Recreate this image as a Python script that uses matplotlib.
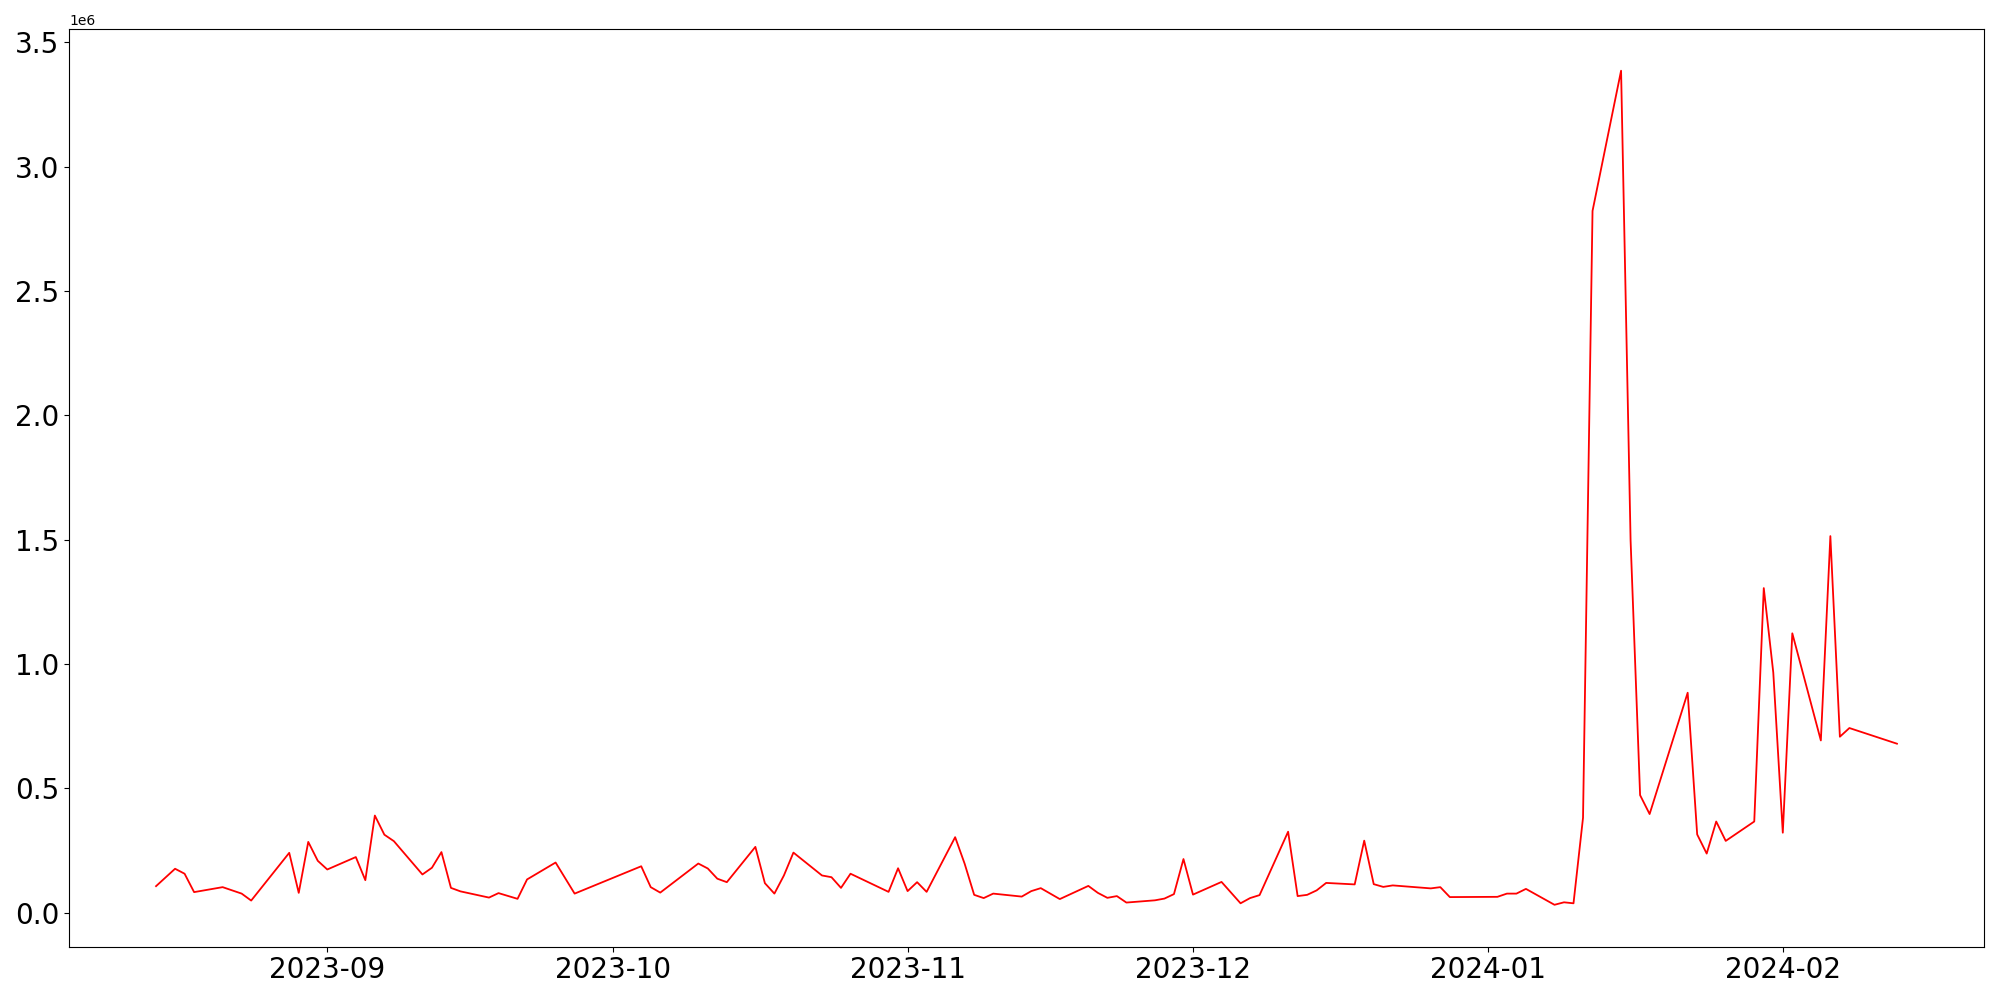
import pandas as pd
import matplotlib
matplotlib.use("Agg")
import matplotlib.pyplot as plt

# daily values
dates = ["2023-08-14", "2023-08-16", "2023-08-17", "2023-08-18", "2023-08-21",
         "2023-08-23", "2023-08-24", "2023-08-28", "2023-08-29", "2023-08-30",
         "2023-08-31", "2023-09-01", "2023-09-04", "2023-09-05", "2023-09-06",
         "2023-09-07", "2023-09-08", "2023-09-11", "2023-09-12", "2023-09-13",
         "2023-09-14", "2023-09-15", "2023-09-18", "2023-09-19", "2023-09-21",
         "2023-09-22", "2023-09-25", "2023-09-27", "2023-10-04", "2023-10-05",
         "2023-10-06", "2023-10-10", "2023-10-11", "2023-10-12", "2023-10-13",
         "2023-10-16", "2023-10-17", "2023-10-18", "2023-10-19", "2023-10-20",
         "2023-10-23", "2023-10-24", "2023-10-25", "2023-10-26", "2023-10-30",
         "2023-10-31", "2023-11-01", "2023-11-02", "2023-11-03", "2023-11-06",
         "2023-11-07", "2023-11-08", "2023-11-09", "2023-11-10", "2023-11-13",
         "2023-11-14", "2023-11-15", "2023-11-17", "2023-11-20", "2023-11-21",
         "2023-11-22", "2023-11-23", "2023-11-24", "2023-11-27", "2023-11-28",
         "2023-11-29", "2023-11-30", "2023-12-01", "2023-12-04", "2023-12-06",
         "2023-12-07", "2023-12-08", "2023-12-11", "2023-12-12", "2023-12-13",
         "2023-12-14", "2023-12-15", "2023-12-18", "2023-12-19", "2023-12-20",
         "2023-12-21", "2023-12-22", "2023-12-26", "2023-12-27", "2023-12-28",
         "2024-01-02", "2024-01-03", "2024-01-04", "2024-01-05", "2024-01-08",
         "2024-01-09", "2024-01-10", "2024-01-11", "2024-01-12", "2024-01-15",
         "2024-01-16", "2024-01-17", "2024-01-18", "2024-01-22", "2024-01-23",
         "2024-01-24", "2024-01-25", "2024-01-26", "2024-01-29", "2024-01-30",
         "2024-01-31", "2024-02-01", "2024-02-02", "2024-02-05", "2024-02-06",
         "2024-02-07", "2024-02-08", "2024-02-13"]

values = [106000, 176000, 156000, 82000, 102000,
          76000, 48000, 240000, 79000, 284000,
          208000, 173000, 223000, 130000, 390000,
          313000, 287000, 153000, 180000, 243000,
          99000, 85000, 60000, 78000, 55000,
          133000, 201000, 76000, 186000, 102000,
          80000, 197000, 177000, 136000, 122000,
          264000, 118000, 76000, 149000, 241000,
          149000, 142000, 99000, 156000, 83000,
          178000, 86000, 122000, 83000, 303000,
          196000, 71000, 58000, 76000, 64000,
          86000, 98000, 54000, 107000, 79000,
          59000, 66000, 40000, 49000, 56000,
          74000, 215000, 72000, 123000, 37000,
          58000, 70000, 325000, 66000, 71000,
          89000, 119000, 113000, 289000, 114000,
          103000, 109000, 97000, 102000, 62000,
          63000, 76000, 76000, 95000, 31000,
          41000, 37000, 381000, 2822000, 3386000,
          1497000, 472000, 396000, 884000, 314000,
          237000, 366000, 288000, 366000, 1305000,
          965000, 321000, 1123000, 692000, 1514000,
          707000, 742000, 679000]

df = pd.DataFrame({"date": pd.to_datetime(dates), "value": values})

fig, ax = plt.subplots(figsize=(20, 10), dpi=100)
ax.plot(df["date"], df["value"], color="red", linewidth=1.3)
ax.tick_params(axis="both", labelsize=20)

plt.subplots_adjust(left=0.0345, right=0.992, top=0.971, bottom=0.0535)
plt.savefig("out.png")
